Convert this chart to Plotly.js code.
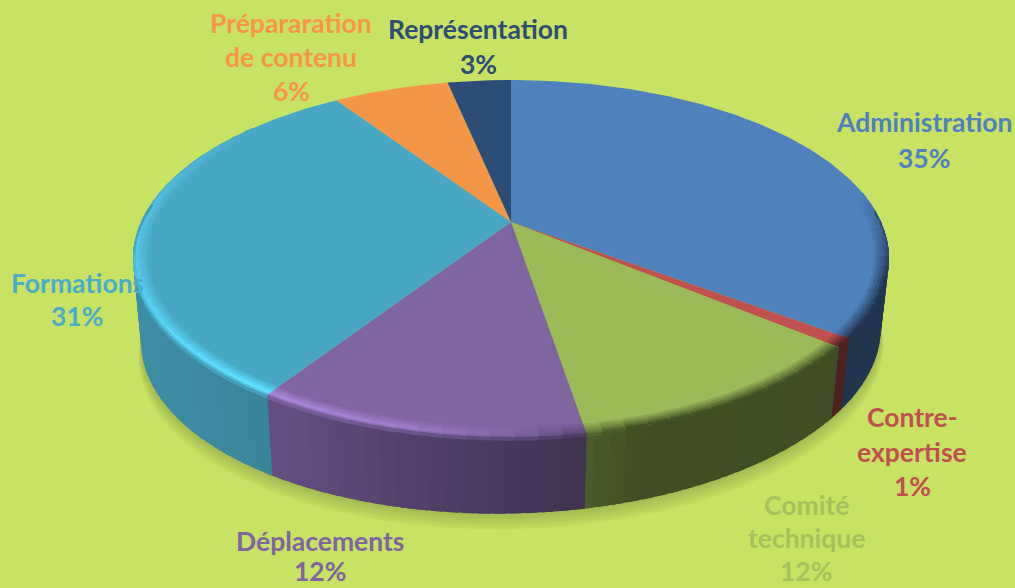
<!DOCTYPE html>
<html>
<head>
<meta charset="utf-8">
<script src="https://cdn.plot.ly/plotly-3.0.1.min.js"></script>
<style>html,body{margin:0;padding:0;background:#C8E264;overflow:hidden}#c{width:1015px;height:588px}</style>
</head>
<body>
<div id="c"></div>
<script>
// Data, clockwise from 12 o'clock (shares read from the drawn wedges)
const categories = ["Administration","Contre-expertise","Comité technique","Déplacements","Formations","Prépararation de contenu","Représentation"];
const values = [35.2,0.8,11.4,11.8,31.5,6,3.3];
const faceColors = [[79,129,189],[192,80,77],[155,187,89],[128,100,162],[72,168,196],[245,150,70],[44,77,117]];
// Label text, line by line, with anchor positions
const labelLines = [["Administration","35%"],["Contre-","expertise","1%"],["Comité","technique","12%"],["Déplacements","12%"],["Formations","31%"],["Prépararation","de contenu","6%"],["Représentation","3%"]];
const labelX = [924,912,806,320,77,291,478];
const labelY = [122,417,505,541,283,23,29];
const labelStep = [36,34.5,33,30,33,34,35];
const labelColors = ["#4F81BD","#C0504D","#A5C25F","#8064A2","#4BACC6","#F79646","#2C4D75"];

// Perspective of the disc
const cx=511, top0=222, f=370, g=171, k=0.2045, bot0=298.6, f2=362, skew=-6.6;
const rad=d=>d*Math.PI/180;
function topPt(t,r){const s=Math.sin(rad(t))*r,c=Math.cos(rad(t))*r,w=1+k*c;return [cx+f*s/w, top0-g*c/w];}
function botPt(t){const s=Math.sin(rad(t)),c=Math.cos(rad(t)),w=1+k*c;return [cx+f2*s/w, bot0-g*c/w+skew*s/w];}
function wallPt(t,u){const a=topPt(t,1),b=botPt(t);return [a[0]+(b[0]-a[0])*u,a[1]+(b[1]-a[1])*u];}
const css=c=>`rgb(${c.map(v=>Math.max(0,Math.min(255,Math.round(v)))).join(",")})`;
const mix=(a,b,u)=>a.map((v,i)=>v+(b[i]-v)*u);
const traces=[];
function poly(pts,color){
  traces.push({type:"scatter",mode:"lines",x:pts.map(p=>p[0]),y:pts.map(p=>p[1]),fill:"toself",fillcolor:color,
    line:{width:0},hoverinfo:"skip",showlegend:false});
}
function wallShade(x){
  const xs=[130,270,585,640,900],fs=[.85,.79,.49,.42,.41];
  for(let i=0;i<xs.length-1;i++) if(x<=xs[i+1]) return fs[i]+(fs[i+1]-fs[i])*Math.max(0,(x-xs[i]))/(xs[i+1]-xs[i]);
  return .41;
}
function hiAmount(t){ // bevel highlight by angle: bright on the left front, none on the right
  const ts=[80,108,165,180,195,213,250,285,310],hs=[0,-1,-1,0,.28,.36,.22,.12,0];
  if(t<=ts[0]||t>=ts[ts.length-1]) return 0;
  for(let i=0;i<ts.length-1;i++) if(t<=ts[i+1]) return hs[i]+(hs[i+1]-hs[i])*(t-ts[i])/(ts[i+1]-ts[i]);
  return 0;
}
// Soft shadow below the pie
for(let i=6;i>=1;i--){
  const pts=[];
  for(let t=0;t<=360;t+=4){const b=botPt(t);pts.push([cx+(b[0]-cx)*(1+i*0.0012),b[1]+i*2.6]);}
  traces.push({type:"scatter",mode:"lines",x:pts.map(p=>p[0]),y:pts.map(p=>p[1]),fill:"toself",
    fillcolor:"rgba(120,130,60,0.07)",line:{width:0},hoverinfo:"skip",showlegend:false});
}
const total=values.reduce((a,b)=>a+b,0);
let acc=0; const spans=values.map(v=>{const a=acc/total*360;acc+=v;return [a,acc/total*360];});
// Side wall: strips overlap the next one so no seams show
spans.forEach((sp,i)=>{
  const a=Math.max(sp[0],85),b=Math.min(sp[1],275);
  for(let t=a;t<b;t+=2){
    const e=Math.min(t+2,b),o=e+1.5,mid=wallPt((t+e)/2,.5);
    poly([wallPt(t,0),wallPt(o,0),wallPt(o,1),wallPt(t,1)],css(faceColors[i].map(v=>v*wallShade(mid[0]))));
  }
});
// Top face
spans.forEach((sp,i)=>{
  const pts=[[cx,top0]];
  for(let t=sp[0];t<sp[1];t+=1) pts.push(topPt(t,1));
  pts.push(topPt(sp[1],1));
  poly(pts,css(faceColors[i]));
});
// Bevel round the rim: painted from the inside out
const rings=[.955,.963,.971,.979,.987,.994];
spans.forEach((sp,i)=>{
  const a=Math.max(sp[0],80),b=Math.min(sp[1],308);
  if(b<=a) return;
  const face=faceColors[i];
  for(let t=a;t<b;t+=3){
    const e=Math.min(t+3,b),o=Math.min(e+1.5,b),m=(t+e)/2,h=hiAmount(m),mid=topPt(m,1);
    const dark=face.map(v=>v*wallShade(mid[0]));
    rings.forEach((r,j)=>{
      const u=j/(rings.length-1);
      let c;
      if(h>=0){ const w=u<.8?u/.8:1-(u-.8)/.2*.5; c=face.map(v=>v*(1+h*w)); }
      else c=mix(face,dark,-h*u);
      poly([topPt(t,r),topPt(o,r),topPt(o,1),topPt(t,1)],css(c));
    });
    if(m>85&&m<275){
      const lit=h>=0?face.map(v=>v*(1+h*.5)):mix(face,dark,-h);
      poly([topPt(t,1),topPt(o,1),wallPt(o,.05),wallPt(t,.05)],css(mix(lit,dark,.6)));
    }
  }
});
const annotations=[];
labelLines.forEach((lines,i)=>lines.forEach((txt,j)=>annotations.push({
  xref:"x",yref:"y",x:labelX[i],y:labelY[i]+j*labelStep[i],text:txt,showarrow:false,xanchor:"center",yanchor:"middle",
  font:{family:"Lato, Carlito, sans-serif",size:26.5,color:labelColors[i],weight:700}
})));
Plotly.newPlot("c",traces,{
  width:1015,height:588,margin:{l:0,r:0,t:0,b:0},paper_bgcolor:"#C8E264",plot_bgcolor:"#C8E264",showlegend:false,
  xaxis:{range:[0,1015],visible:false,fixedrange:true},
  yaxis:{range:[588,0],visible:false,fixedrange:true},
  annotations:annotations
},{displayModeBar:false,staticPlot:true});
</script>
</body>
</html>
